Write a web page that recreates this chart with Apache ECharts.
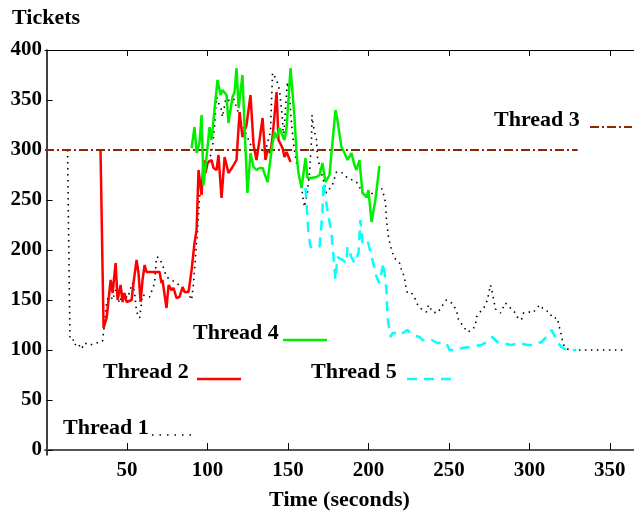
<!DOCTYPE html>
<html><head><meta charset="utf-8">
<script src="https://cdn.jsdelivr.net/npm/echarts@6/dist/echarts.min.js"></script>
<style>html,body{margin:0;padding:0;background:#fff}#c{width:634px;height:514px}</style>
</head><body><div id="c"></div>
<script>
// [time (s), tickets]
const thread1 = [[13,300],[14.5,113],[16.1,113],[17.4,105],[19.3,107],[21.7,101],[23.6,107],[26.7,105],[31.1,107],[34.8,109],[36,127],[37.3,148],[39.1,157],[41,150],[42.9,160],[45.3,147],[47.2,157],[50.3,152],[53.4,167],[54.7,157],[55.9,138],[57.8,132],[59.6,155],[64,153],[67.1,167],[68.3,193],[70.2,192],[72,185],[74.5,173],[77.6,170],[80.7,167],[83.9,163],[87,160],[90.1,150],[91.3,167],[92.5,193],[93.8,220],[95,253],[96.9,270],[98.1,280],[101.2,290],[103.1,303],[104.3,323],[105.6,353],[106.8,347],[108.7,340],[109.3,333],[111.8,355],[114.9,343],[116.1,352],[118.6,340],[121.1,327],[124.2,315],[126.1,308],[128,300],[130.4,297],[133.5,298],[136.6,303],[139.1,318],[140.4,377],[142.9,370],[144.7,360],[146.6,330],[147.2,310],[148.4,340],[149.6,368],[150.9,355],[152,330],[153.5,305],[155,290],[156.5,277],[158.5,263],[159.2,253],[160.2,243],[162,257],[163.5,280],[164.6,310],[164.9,335],[165.4,327],[166.5,318],[167.7,310],[168.3,293],[170.8,277],[172,270],[173.9,257],[177.6,265],[180.1,278],[183.9,277],[187,272],[190.1,270],[193.2,267],[196.3,257],[199.4,253],[202.5,257],[205,260],[208.1,262],[209.9,253],[210.6,247],[211.2,230],[212.4,213],[214.3,200],[216.1,192],[219.3,187],[220.5,180],[222.4,173],[223,165],[224.2,157],[226.7,157],[228.6,153],[229.8,147],[231.7,143],[233.5,140],[236,138],[237.3,145],[239.8,138],[242.9,137],[245.3,143],[248.4,150],[251.6,147],[254.7,140],[255.9,130],[258.4,125],[261.5,118],[264.6,120],[266.5,125],[267.1,133],[268.9,137],[272,143],[273.9,150],[275.8,165],[277,157],[278.9,141],[282,137],[285.1,147],[287.6,143],[290.7,138],[292.5,133],[295,130],[296.3,137],[300,138],[301.9,137],[305,142],[306.2,145],[309.3,140],[312.4,138],[314.3,132],[317.4,132],[318.6,123],[319.9,115],[320.5,110],[321.7,103],[324.8,100],[359.6,100]];
const thread2 = [[33.5,300],[35.4,122],[37.3,132],[39.8,170],[41,157],[42.9,187],[44.1,150],[46,165],[47.2,148],[48.4,157],[49.7,148],[52.8,150],[54,167],[55.9,190],[57.1,177],[58.4,148],[59.6,170],[60.9,185],[62.1,178],[70.2,178],[71.4,167],[72,170],[74.5,142],[75.8,165],[77.6,160],[78.9,162],[80.7,152],[82.6,153],[84.5,163],[85.7,158],[88.2,158],[90.1,180],[91.9,207],[93.2,220],[94.4,280],[96.3,255],[97.5,290],[98.8,277],[100,287],[102.5,290],[103.7,282],[105.6,280],[106.8,295],[108.7,252],[110.6,293],[113,277],[115.5,283],[118,290],[119.9,338],[121.7,313],[124.2,325],[126.7,355],[128.6,305],[130.4,290],[132.3,310],[134.2,332],[136,290],[137.3,300],[139.1,297],[140.4,313],[142.9,358],[144.1,310],[146.6,302],[147.8,293],[149.1,298],[151.6,288]];
const thread3 = [[-1,300],[330,300]];
const thread4 = [[90.1,302],[91.9,323],[93.2,297],[95,307],[96.3,335],[97.5,265],[99.4,293],[101.2,323],[102.5,310],[104.3,340],[106.2,370],[108.1,355],[109.3,360],[111.8,355],[113,327],[115.5,353],[116.8,358],[118,382],[119.3,342],[121.7,375],[123,323],[124.8,257],[126.7,297],[128.6,283],[130.4,280],[132.3,282],[134.2,282],[137.3,268],[139.8,300],[141.6,318],[142.9,312],[144.7,322],[147.8,310],[149.1,322],[151.6,382],[152.8,357],[154,333],[155.3,297],[156.5,277],[158.4,262],[159.6,262],[160.9,292],[162.1,272],[164.6,272],[167.7,273],[169.6,275],[171.4,287],[173.3,268],[175.8,275],[177.6,307],[179.5,340],[180.7,330],[183.2,303],[185.1,297],[187,290],[189.4,297],[191.3,285],[192.5,280],[194.4,290],[196.3,257],[198.8,253],[200,260],[201.9,228],[204.3,250],[206.8,284]];
const thread5 = [[160.9,262],[162.7,217],[164,203],[169.6,203],[171.4,237],[172,268],[173.3,253],[174.5,240],[177,217],[178.3,193],[179.5,170],[180.7,193],[183.9,190],[186.3,187],[187,203],[189.4,193],[191.3,187],[193.8,197],[195,230],[196.3,207],[199.4,210],[200.6,210],[202.5,190],[205,173],[206.8,167],[209.3,187],[211.2,160],[211.8,133],[213.7,113],[214.9,117],[217.4,117],[219.3,115],[224.2,120],[227.3,115],[231.7,113],[233.5,110],[239.1,110],[242.9,107],[248.4,107],[250.3,100],[254.7,100],[258.4,102],[262.7,103],[270.2,105],[273.3,108],[277,113],[280.1,108],[283.2,107],[288.8,105],[293.8,107],[298.8,105],[303.1,105],[307.5,108],[310.6,113],[313.7,120],[315.5,115],[317.4,108],[319.9,103],[323,100],[329.2,100]];
const xTicks = [50,100,150,200,250,300,350];
const yTicks = [0,50,100,150,200,250,300,350,400];
const seriesNames = ['Thread 1','Thread 2','Thread 3','Thread 4','Thread 5'];

const FONT = 'Liberation Serif';
const chart = echarts.init(document.getElementById('c'));
const lbl = {fontFamily: FONT, fontWeight: 'bold', fontSize: 21, color: '#000'};
const t = (text, x, y) => ({type:'text', x, y, style:{text, fontFamily: FONT, fontWeight:'bold', fontSize:22, fill:'#000', verticalAlign:'middle'}});
const ln = (x1, x2, y, stroke, lineDash, lineWidth) => ({type:'line', shape:{x1, y1:y, x2, y2:y}, style:{stroke, lineWidth, lineDash}});

chart.setOption({
  animation: false,
  backgroundColor: '#fff',
  grid: {left: 45, right: 0, top: 50, bottom: 59, containLabel: false, outerBoundsMode: 'none'},
  xAxis: [{
    type: 'value', min: -1, max: 365, position: 'bottom',
    axisLine: {show: true, lineStyle: {color: '#555', width: 2}},
    axisTick: {show: true, inside: true, length: 7, customValues: xTicks, lineStyle: {color: '#000', width: 1}},
    axisLabel: {show: true, customValues: xTicks, margin: 5, ...lbl},
    splitLine: {show: false},
    name: 'Time (seconds)', nameLocation: 'middle', nameGap: 34,
    nameTextStyle: {fontFamily: FONT, fontWeight: 'bold', fontSize: 22, color: '#000'}
  }, {
    type: 'value', min: -1, max: 365, position: 'top',
    axisLine: {show: true, lineStyle: {color: '#000', width: 1}},
    axisTick: {show: true, inside: true, length: 6, customValues: xTicks, lineStyle: {color: '#000', width: 1}},
    axisLabel: {show: false}, splitLine: {show: false}
  }],
  yAxis: [{
    type: 'value', min: -5, max: 400,
    axisLine: {show: true, lineStyle: {color: '#000', width: 1.5}},
    axisTick: {show: true, inside: true, length: 6, customValues: yTicks, lineStyle: {color: '#000', width: 1}},
    axisLabel: {show: true, customValues: yTicks, margin: 3, ...lbl},
    splitLine: {show: false}
  }],
  graphic: [
    {type:'text', left: 12, top: 7, style:{text:'Tickets', fontFamily: FONT, fontWeight:'bold', fontSize:22, fill:'#000'}},
    t('Thread 1', 63, 428), ln(152, 192, 435, '#000', [1.5, 6], 1.5),
    t('Thread 2', 103, 372), ln(197, 241, 379, '#ff0000', null, 2.5),
    t('Thread 4', 193, 333), ln(283, 327, 340, '#00ee00', null, 2.5),
    t('Thread 5', 311, 372), ln(407, 451, 379, '#00ffff', [10, 7], 2.5),
    t('Thread 3', 494, 120), ln(590, 632, 127, '#8b2a00', [9, 3, 2, 3], 2)
  ],
  series: [
    {name: seriesNames[0], type: 'line', data: thread1, showSymbol: false, lineStyle: {color: '#000', width: 1.6, type: [1.5, 4.5]}},
    {name: seriesNames[1], type: 'line', data: thread2, showSymbol: false, lineStyle: {color: '#ff0000', width: 2.5}},
    {name: seriesNames[2], type: 'line', data: thread3, showSymbol: false, lineStyle: {color: '#8b2a00', width: 2, type: [9, 3, 2, 3]}},
    {name: seriesNames[3], type: 'line', data: thread4, showSymbol: false, lineStyle: {color: '#00ee00', width: 2.5}},
    {name: seriesNames[4], type: 'line', data: thread5, showSymbol: false, lineStyle: {color: '#00ffff', width: 2.5, type: [10, 7]}}
  ]
});
</script></body></html>
